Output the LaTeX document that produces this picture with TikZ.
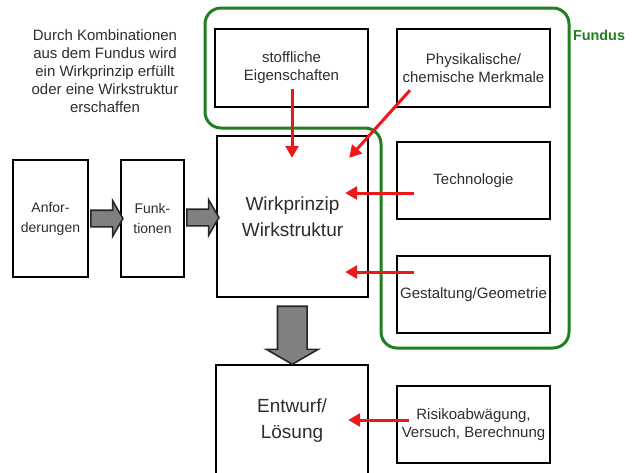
\documentclass[tikz,border=0pt]{standalone}
\usepackage{fontspec}
\setmainfont{Liberation Sans}
\usetikzlibrary{calc,arrows.meta,shapes.arrows}
\definecolor{fundgreen}{RGB}{30,128,30}
\definecolor{pfeilrot}{RGB}{235,25,25}
\definecolor{textgrau}{RGB}{45,45,45}
\begin{document}
\begin{tikzpicture}[x=0.5pt,y=-0.5pt,
				box/.style={draw,line width=1.2pt,text=textgrau,align=center,inner sep=0pt,
					font=\fontsize{7.5}{9}\selectfont},
				bigbox/.style={box,font=\fontsize{9.5}{13}\selectfont},
				smallbox/.style={box,font=\fontsize{7}{10}\selectfont},
				blockpfeil/.style={single arrow,draw=black!85,fill=black!50,line width=0.8pt,
					single arrow tip angle=120,inner sep=0pt},
				rotpfeil/.style={draw=pfeilrot,line width=1.5pt,-{Triangle[length=6pt,width=6.5pt]}}]
\useasboundingbox (0,0) rectangle (635,472);
% Fundus
\draw[fundgreen,line width=1.5pt,rounded corners=8pt]
	(205,8) -- (569,8) -- (569,348) -- (381,348) -- (381,128) -- (205,128) -- cycle;
\node[text=fundgreen,font=\fontsize{7.2}{9}\selectfont\bfseries] (fundus) at (599,35) {Fundus};
\node[text=textgrau,align=center,font=\fontsize{7.5}{9}\selectfont] (hinweis) at (105,71)
	{Durch Kombinationen\\aus dem Fundus wird\\ein Wirkprinzip erfüllt\\oder eine Wirkstruktur\\erschaffen};
% Boxen
\node[smallbox,minimum width=37.5pt,minimum height=58.5pt] (anf) at (50.5,218.5) {Anfor-\\derungen};
\node[smallbox,minimum width=31.5pt,minimum height=58.5pt] (fkt) at (152.5,218.5) {Funk-\\tionen};
\node[bigbox,minimum width=75.5pt,minimum height=80.5pt] (wirk) at (292.5,216.5) {Wirkprinzip\\Wirkstruktur};
\node[box,minimum width=76.5pt,minimum height=39pt] (stoff) at (291.5,68) {stoffliche\\Eigenschaften};
\node[box,minimum width=76.5pt,minimum height=39pt] (phys) at (473.5,68) {Physikalische/\\chemische Merkmale};
\node[box,minimum width=76.5pt,minimum height=38.5pt] (tech) at (473.5,180.5) {Technologie};
\node[box,minimum width=76.5pt,minimum height=38.5pt] (gest) at (473.5,294.5) {Gestaltung/Geometrie};
\node[bigbox,minimum width=76pt,minimum height=55.5pt] (entw) at (292,420.5) {Entwurf/\\Lösung};
\node[box,minimum width=76.5pt,minimum height=38.5pt] (risk) at (473.5,424.5) {Risikoabwägung,\\Versuch, Berechnung};
% Blockpfeile
\node[blockpfeil,minimum height=16pt,inner ysep=3.75pt,single arrow head extend=4.75pt]
	(p1) at ($(anf.east)!0.5!(fkt.west)$) {};
\node[blockpfeil,minimum height=16pt,inner ysep=3.75pt,single arrow head extend=4.75pt]
	(p2) at ($(fkt.east)!0.5!(wirk.west)$) {};
\node[blockpfeil,rotate=-90,minimum height=29pt,inner ysep=7pt,single arrow head extend=5.5pt]
	(p3) at ($(wirk.south)!0.5!(entw.north)$) {};
% rote Pfeile
\draw[rotpfeil] ($(stoff.south)+(0.5,-19)$) -- ($(wirk.north)+(-0.5,23)$);
\draw[rotpfeil] ($(phys.south)+(-63.5,-18)$) -- ($(wirk.north east)+(-20,23)$);
\draw[rotpfeil] ($(tech.west)+(18,12.5)$) -- ($(wirk.east)+(-24,-23.5)$);
\draw[rotpfeil] ($(gest.west)+(18,-22.5)$) -- ($(wirk.east)+(-24,55.5)$);
\draw[rotpfeil] ($(risk.west)+(13,-4.5)$) -- ($(entw.east)+(-21,-0.5)$);
\end{tikzpicture}
\end{document}
